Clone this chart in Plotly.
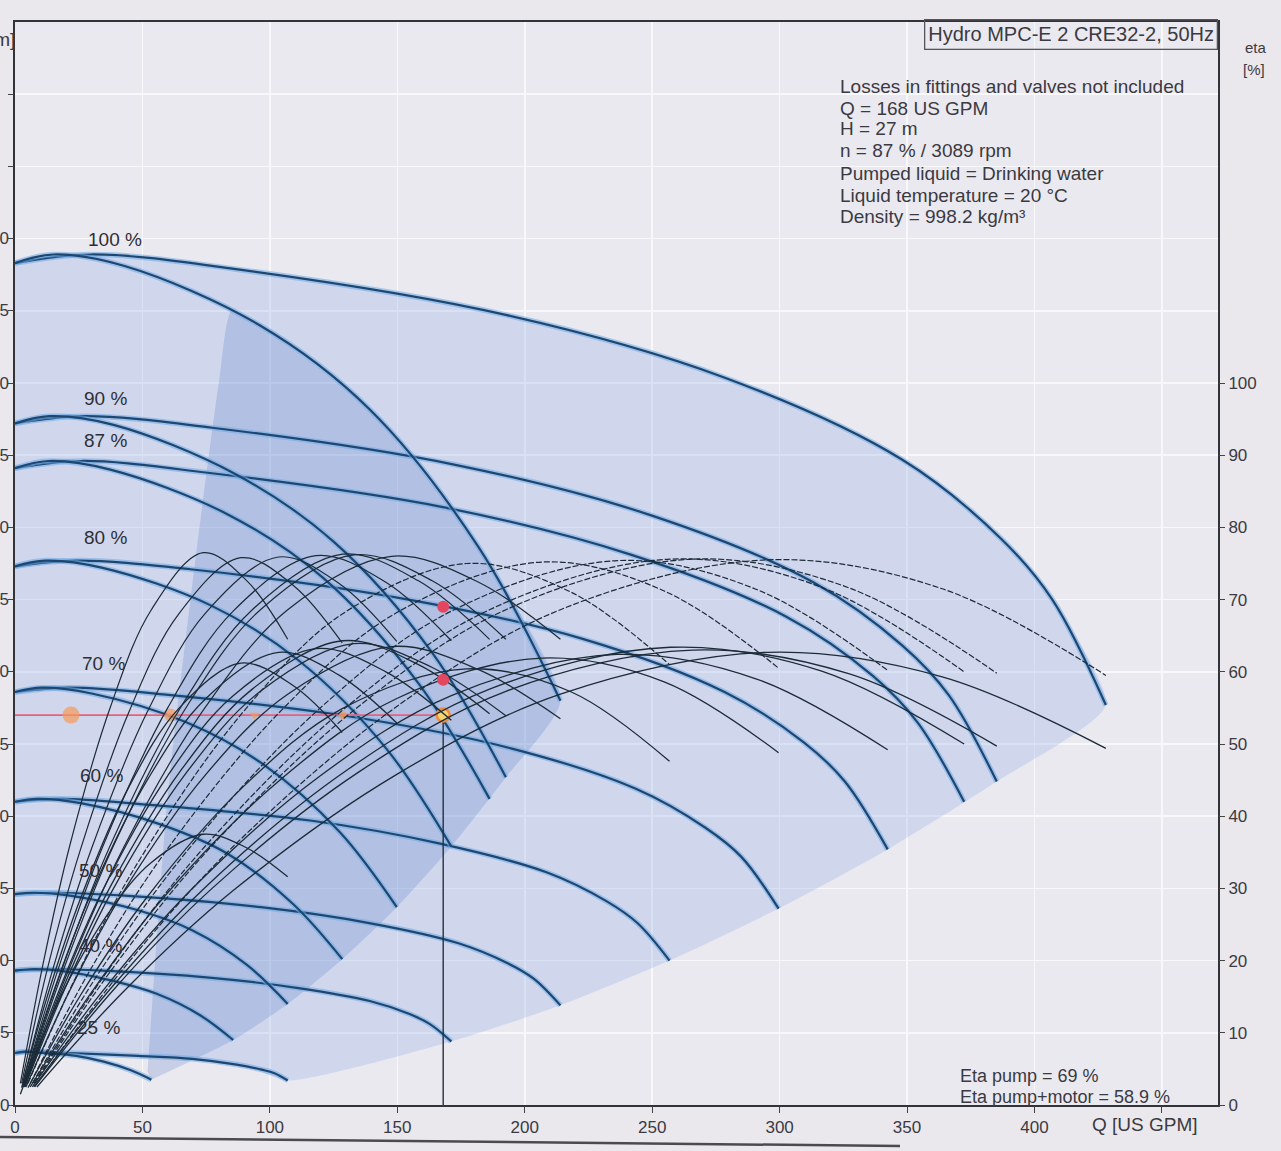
import plotly.graph_objects as go

# ---------------- data ----------------
X_TICKS = [0, 50, 100, 150, 200, 250, 300, 350, 400, 450]
X_TICK_TEXT = ["0", "50", "100", "150", "200", "250", "300", "350", "400", ""]
H_TICKS = [0, 5, 10, 15, 20, 25, 30, 35, 40, 45, 50, 55, 60, 65, 70]
H_LABELS = [0, 5, 10, 15, 20, 25, 30, 35, 40, 45, 50, 55, 60]
ETA_TICKS = [0, 10, 20, 30, 40, 50, 60, 70, 80, 90, 100]

SPEEDS = ["100 %", "90 %", "87 %", "80 %", "70 %", "60 %", "50 %", "40 %", "25 %"]

# QH curves, one pump running (Q in US GPM, H in m)
QH1_Q = [
    [0, 15, 43, 96, 139, 182, 214],
    [0, 13.5, 38.7, 86.4, 125.1, 163.8, 192.6],
    [0, 13.1, 37.4, 83.5, 120.9, 158.3, 186.2],
    [0, 12, 34.4, 76.8, 111.2, 145.6, 171.2],
    [0, 10.5, 30.1, 67.2, 97.3, 127.4, 149.8],
    [0, 9, 25.8, 57.6, 83.4, 109.2, 128.4],
    [0, 7.5, 21.5, 48, 69.5, 91, 107],
    [0, 6, 17.2, 38.4, 55.6, 72.8, 85.6],
    [0, 3.8, 10.8, 24, 34.8, 45.5, 53.5],
]
QH1_H = [
    [58.3, 58.9, 58.1, 54.0, 48.2, 38.6, 28.0],
    [47.2, 47.7, 47.1, 43.7, 39.0, 31.3, 22.7],
    [44.1, 44.6, 44.0, 40.9, 36.5, 29.2, 21.2],
    [37.3, 37.7, 37.2, 34.6, 30.8, 24.7, 17.9],
    [28.6, 28.9, 28.5, 26.5, 23.6, 18.9, 13.7],
    [21.0, 21.2, 20.9, 19.4, 17.4, 13.9, 10.1],
    [14.6, 14.7, 14.5, 13.5, 12.1, 9.7, 7.0],
    [9.3, 9.4, 9.3, 8.6, 7.7, 6.2, 4.5],
    [3.6, 3.7, 3.6, 3.4, 3.0, 2.4, 1.75],
]
# QH curves, two pumps running
QH2_Q = [
    [0, 30, 86, 193, 278, 348, 387, 407, 428],
    [0, 27, 77.4, 173.7, 250.2, 313.2, 348.3, 366.3, 385.2],
    [0, 26.1, 74.8, 167.9, 241.9, 302.8, 336.7, 354.1, 372.4],
    [0, 24, 68.8, 154.4, 222.4, 278.4, 309.6, 325.6, 342.4],
    [0, 21, 60.2, 135.1, 194.6, 243.6, 270.9, 284.9, 299.6],
    [0, 18, 51.6, 115.8, 166.8, 208.8, 232.2, 244.2, 256.8],
    [0, 15, 43, 96.5, 139, 174, 193.5, 203.5, 214],
    [0, 12, 34.4, 77.2, 111.2, 139.2, 154.8, 162.8, 171.2],
    [0, 7.5, 21.5, 48.3, 69.5, 87, 96.8, 101.8, 107],
]
QH2_H = [
    [58.3, 58.9, 57.9, 54.7, 50.4, 44.7, 39.2, 35.0, 27.7],
    [47.2, 47.7, 46.9, 44.3, 40.8, 36.2, 31.8, 28.4, 22.4],
    [44.1, 44.6, 43.8, 41.4, 38.1, 33.8, 29.7, 26.5, 21.0],
    [37.3, 37.7, 37.1, 35.0, 32.3, 28.6, 25.1, 22.4, 17.7],
    [28.6, 28.9, 28.4, 26.8, 24.7, 21.9, 19.2, 17.2, 13.6],
    [21.0, 21.2, 20.8, 19.7, 18.1, 16.1, 14.1, 12.6, 10.0],
    [14.6, 14.7, 14.5, 13.7, 12.6, 11.2, 9.8, 8.75, 6.9],
    [9.3, 9.4, 9.3, 8.8, 8.1, 7.2, 6.3, 5.6, 4.4],
    [3.6, 3.7, 3.6, 3.4, 3.2, 2.8, 2.45, 2.2, 1.7],
]

# efficiency curves (Q in US GPM, eta in %)
ETA_Q = [
    [4.3, 21.4, 42.8, 74.9, 107, 147.7, 181.9, 214],
    [3.9, 19.3, 38.5, 67.4, 96.3, 132.9, 163.7, 192.6],
    [3.7, 18.6, 37.2, 65.2, 93.1, 128.5, 158.3, 186.2],
    [3.4, 17.1, 34.2, 59.9, 85.6, 118.1, 145.5, 171.2],
    [3.0, 15.0, 30.0, 52.4, 74.9, 103.4, 127.3, 149.8],
    [2.6, 12.8, 25.7, 44.9, 64.2, 88.6, 109.1, 128.4],
    [2.1, 10.7, 21.4, 37.5, 53.5, 73.8, 91.0, 107],
    [8.6, 42.8, 85.6, 149.8, 214, 295.3, 363.8, 428],
    [7.7, 38.5, 77.0, 134.8, 192.6, 265.8, 327.4, 385.2],
    [7.4, 37.2, 74.5, 130.3, 186.2, 257.0, 316.5, 372.4],
    [6.8, 34.2, 68.5, 119.8, 171.2, 236.3, 291.0, 342.4],
    [6.0, 30.0, 59.9, 104.9, 149.8, 206.7, 254.7, 299.6],
    [5.1, 25.7, 51.4, 89.9, 128.4, 177.2, 218.3, 256.8],
]
ETA_PUMP = [
    [3, 19, 35.8, 55.2, 68.6, 76.0, 72.4, 64.5],
    [3, 19, 35.8, 55.2, 68.6, 76.2, 72.6, 64.5],
    [3, 19, 35.8, 55.2, 68.6, 76.3, 72.6, 64.5],
    [3, 19, 35.6, 55.0, 68.4, 76.1, 72.4, 64.3],
    [3, 19, 35.5, 54.8, 68.2, 75.9, 72.2, 64.2],
    [3, 19, 35.4, 54.6, 68.0, 75.8, 72.0, 64.0],
    [3, 19, 35.8, 55.2, 68.6, 76.5, 72.6, 64.5],
    [3, 19, 35.8, 55.2, 68.6, 75.5, 71.5, 59.5],
    [3, 19, 35.8, 55.2, 68.6, 75.6, 71.6, 59.8],
    [3, 19, 35.8, 55.2, 68.6, 75.6, 71.7, 60.0],
    [3, 19, 35.6, 55.0, 68.4, 75.4, 71.4, 60.2],
    [3, 19, 35.5, 54.8, 68.2, 75.2, 71.2, 60.5],
    [3, 19, 35.4, 54.6, 68.0, 75.0, 71.0, 61.0],
]
ETA_TOTAL = [
    [2.5, 15.8, 29.7, 45.8, 56.9, 63.5, 60.3, 53.5],
    [2.5, 15.9, 29.9, 46.1, 57.3, 63.9, 60.6, 53.9],
    [2.5, 16.0, 30.1, 46.4, 57.6, 64.3, 61.0, 54.2],
    [2.5, 15.7, 29.6, 45.6, 56.7, 63.2, 60.0, 53.3],
    [2.5, 15.6, 29.4, 45.3, 56.3, 62.7, 59.5, 52.9],
    [2.4, 15.2, 28.6, 44.2, 54.9, 61.2, 58.1, 51.6],
    [1.5, 9.3, 17.5, 27.0, 33.6, 37.5, 35.6, 31.6],
    [2.5, 15.8, 29.7, 45.8, 56.9, 62.7, 59.3, 49.4],
    [2.5, 15.9, 29.9, 46.1, 57.3, 63.0, 59.7, 49.7],
    [2.5, 16.0, 30.1, 46.4, 57.6, 63.4, 60.1, 50.0],
    [2.5, 15.7, 29.6, 45.6, 56.7, 62.4, 59.0, 49.2],
    [2.5, 15.6, 29.4, 45.3, 56.3, 61.9, 58.6, 48.8],
    [2.4, 15.2, 28.6, 44.2, 54.9, 60.4, 57.2, 47.6],
]
ETA_TWO_PUMPS = [False, False, False, False, False, False, False,
                 True, True, True, True, True, True]

# operating ranges
RANGE2_Q = [0, 30, 86, 193, 278, 348, 387, 407, 428, 385.2, 342.4, 299.6, 256.8, 214,
            171.2, 107, 91, 69.5, 48.3, 21.5, 7.5, 0]
RANGE2_H = [58.3, 58.9, 57.9, 54.7, 50.4, 44.7, 39.2, 35.0, 27.7, 22.4, 17.7, 13.6, 10.0, 6.9,
            4.4, 1.7, 2.7, 3.2, 3.4, 3.6, 3.7, 3.6]
RANGE1_Q = [52, 59.8, 70.8, 80.2, 85, 96, 139, 182, 214, 192.6, 171.2, 149.8,
            128.4, 107, 85.6, 53.5]
RANGE1_H = [2.3, 21.2, 37.8, 50.3, 55.0, 54.0, 48.2, 38.6, 28.0, 22.7, 17.9, 13.7,
            10.1, 7.0, 4.5, 1.75]

# system (constant pressure) line and duty point
SYS_Q = [0, 168]
SYS_H = [27, 27]
SYS_PTS_Q = [22, 61, 94, 128.5]
SYS_PTS_H = [27, 27, 27, 27]
DUTY_Q = 168
DUTY_H = 27
DUTY_ETA = [69, 58.9]

TITLE_BOX = "Hydro MPC-E 2 CRE32-2, 50Hz"
INFO_LINES = [
    "Losses in fittings and valves not included",
    "Q = 168 US GPM",
    "H = 27 m",
    "n = 87 % / 3089 rpm",
    "Pumped liquid = Drinking water",
    "Liquid temperature = 20 °C",
    "Density = 998.2 kg/m³",
]
RESULT_LINES = ["Eta pump = 69 %", "Eta pump+motor = 58.9 %"]

# ---------------- layout helpers ----------------
W, HT = 1281, 1151
BODY = 0                       # the page margin is removed by the post script below
PL, PR, PT, PB = 15, 1218, 22, 1105   # wanted plot box on the page (pixels)
ML = PL - BODY
MT = PT - BODY
PW = PR - PL
PH = PB - PT
MR = W - ML - PW
MB = HT - MT - PH
FONT = "Liberation Sans, Arial, sans-serif"
TXT = "#3a3a42"


def paper(px, py):
    return (px - PL) / PW, (PB - py) / PH


def text_at(px, py, txt, size, xanchor="center", color=TXT, **kw):
    x, y = paper(px, py)
    d = dict(x=x, y=y, xref="paper", yref="paper", text=txt, showarrow=False,
             xanchor=xanchor, yanchor="middle",
             font=dict(size=size, color=color, family=FONT))
    d.update(kw)
    return d


fig = go.Figure()

# operating ranges
fig.add_trace(go.Scatter(x=RANGE2_Q, y=RANGE2_H, mode="lines", fill="toself",
                         fillcolor="rgba(145,175,232,0.30)",
                         line=dict(width=0, shape="spline", smoothing=0.6),
                         hoverinfo="skip"))
fig.add_trace(go.Scatter(x=RANGE1_Q, y=RANGE1_H, mode="lines", fill="toself",
                         fillcolor="rgba(85,120,195,0.24)",
                         line=dict(width=0, shape="spline", smoothing=0.6),
                         hoverinfo="skip"))

# QH curves with a light halo
for qs, hs in list(zip(QH2_Q, QH2_H)) + list(zip(QH1_Q, QH1_H)):
    fig.add_trace(go.Scatter(x=qs, y=hs, mode="lines",
                             line=dict(color="rgba(110,170,230,0.55)", width=5.5, shape="spline"),
                             hoverinfo="skip"))
    fig.add_trace(go.Scatter(x=qs, y=hs, mode="lines",
                             line=dict(color="#1d4770", width=2.2, shape="spline"),
                             hoverinfo="skip"))

# system line, duty vertical
fig.add_trace(go.Scatter(x=SYS_Q, y=SYS_H, mode="lines",
                         line=dict(color="#e8607e", width=1.6), hoverinfo="skip"))
fig.add_trace(go.Scatter(x=[DUTY_Q, DUTY_Q], y=[0, DUTY_H], mode="lines",
                         line=dict(color="#26313d", width=1.4), hoverinfo="skip"))

# efficiency curves (right axis)
for qs, ep, et, two in zip(ETA_Q, ETA_PUMP, ETA_TOTAL, ETA_TWO_PUMPS):
    fig.add_trace(go.Scatter(x=qs, y=ep, yaxis="y2", mode="lines",
                             line=dict(color="#1c2b38", width=1.2, shape="spline",
                                       dash="6px,2px" if two else "solid"),
                             hoverinfo="skip"))
    fig.add_trace(go.Scatter(x=qs, y=et, yaxis="y2", mode="lines",
                             line=dict(color="#1c2b38", width=1.3, shape="spline"),
                             hoverinfo="skip"))

# points on the system line
fig.add_trace(go.Scatter(x=SYS_PTS_Q, y=SYS_PTS_H, mode="markers",
                         marker=dict(color="#f39a58", size=[17, 13, 9, 8],
                                     symbol=["circle", "circle", "triangle-down", "circle"],
                                     line=dict(width=0)),
                         hoverinfo="skip"))
fig.add_trace(go.Scatter(x=[DUTY_Q], y=[DUTY_H], mode="markers",
                         marker=dict(color="#f6d46c", size=13,
                                     line=dict(color="#f08a3c", width=2.5)),
                         hoverinfo="skip"))
fig.add_trace(go.Scatter(x=[DUTY_Q, DUTY_Q], y=DUTY_ETA, yaxis="y2", mode="markers",
                         marker=dict(color="#e2475f", size=12), hoverinfo="skip"))

# ---------------- annotations ----------------
ann = []
label_px = [(115, 240), (105, 398), (105, 441), (105, 537), (103, 663),
            (101, 775), (100, 870), (100, 945), (98, 1027)]
for txt, (px, py) in zip(SPEEDS, label_px):
    ann.append(text_at(px, py, txt, 19, color="#2e2e36"))

# H tick labels, cut by the left edge of the photographed page as in the original
for hv in H_LABELS:
    ann.append(dict(x=0, y=hv, xref="paper", yref="y", text=str(hv), showarrow=False,
                    xanchor="right", yanchor="middle", xshift=-4,
                    font=dict(size=17, color=TXT, family=FONT)))

info_y = [86, 108, 129, 151, 173, 195, 217]
for txt, py in zip(INFO_LINES, info_y):
    ann.append(text_at(838, py, txt, 19, xanchor="left"))

bx, by = paper(PR, PT + 12)
ann.append(dict(x=1, y=by, xref="paper", yref="paper", xanchor="right", yanchor="middle",
                text=TITLE_BOX, showarrow=False,
                bordercolor="#55555c", borderwidth=1.3, borderpad=3,
                font=dict(size=20, color=TXT, family=FONT)))

for txt, py in zip(RESULT_LINES, [1076, 1097]):
    ann.append(text_at(958, py, txt, 18, xanchor="left"))

ann.append(text_at(1145, 1124, "Q [US GPM]", 19))
ann.append(text_at(1256, 47, "eta", 15))
ann.append(text_at(1254, 69, "[%]", 15))
ann.append(text_at(17, 40, "[m]", 19, xanchor="right"))

x0, y0 = paper(0, 1137)
x1, y1 = paper(900, 1146)
shapes = [dict(type="line", xref="paper", yref="paper", x0=x0, x1=x1, y0=y0, y1=y1,
               line=dict(color="#4a4a50", width=2.5))]

fig.update_layout(
    width=W, height=HT,
    margin=dict(l=ML, r=MR, t=MT, b=MB, pad=0),
    paper_bgcolor="#ebe8ed",
    plot_bgcolor="#ebe9f0",
    showlegend=False,
    font=dict(family=FONT, color=TXT),
    annotations=ann,
    shapes=shapes,
    xaxis=dict(range=[0, 472], tickvals=X_TICKS, ticktext=X_TICK_TEXT,
               ticks="outside", ticklen=6, tickcolor="#444",
               showgrid=True, gridcolor="#f8f8fb", gridwidth=1.6,
               showline=True, linecolor="#33333a", linewidth=2, mirror=True,
               zeroline=False, automargin=False,
               tickfont=dict(size=17, color=TXT, family=FONT)),
    yaxis=dict(range=[0, 75], tickvals=H_TICKS, showticklabels=False,
               ticks="outside", ticklen=5, tickcolor="#444",
               showgrid=True, gridcolor="#f8f8fb", gridwidth=1.6,
               showline=True, linecolor="#33333a", linewidth=2, mirror=True,
               zeroline=False, automargin=False),
    yaxis2=dict(range=[0, 150], tickvals=ETA_TICKS, overlaying="y", side="right",
                ticks="outside", ticklen=6, tickcolor="#444",
                showgrid=False, zeroline=False, showline=False, automargin=False,
                tickfont=dict(size=17, color=TXT, family=FONT)),
)

fig.write_html("out.html",
               config={"displayModeBar": False, "staticPlot": True},
               post_script="document.body.style.margin='0';"
                           "document.body.style.background='#ebe8ed';")
